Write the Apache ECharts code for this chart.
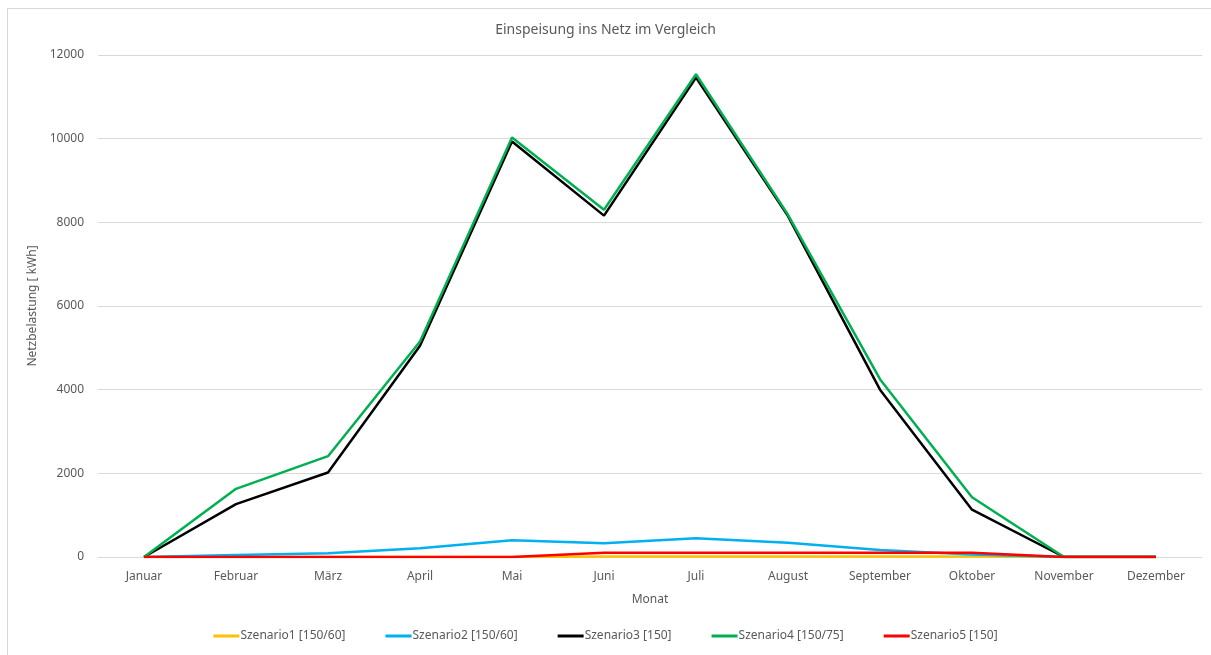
<!DOCTYPE html>
<html>
<head>
<meta charset="utf-8">
<script src="https://cdn.jsdelivr.net/npm/echarts@6/dist/echarts.min.js"></script>
<style>
  html, body { margin: 0; padding: 0; background: #fff; }
  #frame {
    position: absolute; left: 7px; top: 8px; width: 1210px; height: 652px;
    border: 1px solid #d9d9d9; box-sizing: border-box;
  }
  #chart { position: absolute; left: 0; top: 0; width: 1211px; height: 655px; }
</style>
</head>
<body>
<div id="frame"></div>
<div id="chart"></div>
<script>
// Monate und Einspeisewerte je Szenario (kWh)
const months = ["Januar", "Februar", "März", "April", "Mai", "Juni", "Juli", "August", "September", "Oktober", "November", "Dezember"];
const szenario1 = [0, 0, 0, 0, 0, 10, 10, 10, 10, 10, 0, 0];
const szenario2 = [0, 50, 90, 210, 400, 330, 450, 340, 170, 60, 0, 0];
const szenario3 = [0, 1265, 2020, 5050, 9930, 8160, 11460, 8150, 4000, 1130, 0, 0];
const szenario4 = [0, 1630, 2410, 5150, 10030, 8300, 11540, 8180, 4250, 1430, 0, 0];
const szenario5 = [0, 0, 0, 0, 0, 100, 100, 100, 100, 100, 0, 0];
const yTicks = [0, 2000, 4000, 6000, 8000, 10000, 12000];

const chart = echarts.init(document.getElementById("chart"));
const txt = "#595959";
const font = "Noto Sans";

function line(name, data, color) {
  return {
    name: name,
    type: "line",
    data: data,
    symbol: "none",
    lineStyle: { color: color, width: 2.5 },
    itemStyle: { color: color },
  };
}

chart.setOption({
  animation: false,
  textStyle: { fontFamily: font },
  title: {
    text: "Einspeisung ins Netz im Vergleich",
    left: "center",
    top: 18,
    textStyle: { color: txt, fontSize: 14, fontWeight: "normal", fontFamily: font },
  },
  grid: { left: 98, right: 9, top: 55, bottom: 98 },
  xAxis: {
    type: "category",
    data: months,
    boundaryGap: true,
    name: "Monat",
    nameLocation: "middle",
    nameGap: 37,
    nameTextStyle: { color: txt, fontSize: 12 },
    axisLine: { lineStyle: { color: "#d9d9d9" } },
    axisTick: { show: false },
    axisLabel: { color: txt, fontSize: 12, margin: 14 },
  },
  yAxis: {
    type: "value",
    min: yTicks[0],
    max: yTicks[yTicks.length - 1],
    interval: 2000,
    name: "Netzbelastung [ kWh]",
    nameLocation: "middle",
    nameGap: 58,
    nameTextStyle: { color: txt, fontSize: 12 },
    axisLine: { show: false },
    axisTick: { show: false },
    axisLabel: { color: txt, fontSize: 12, margin: 14, formatter: (v) => String(v) },
    splitLine: { lineStyle: { color: "#d9d9d9" } },
  },
  legend: {
    bottom: 8,
    left: "center",
    itemGap: 40,
    itemWidth: 26,
    itemHeight: 3,
    icon: "rect",
    textStyle: { color: txt, fontSize: 12, padding: [0, 0, 0, -4] },
  },
  series: [
    line("Szenario1 [150/60]", szenario1, "#ffc000"),
    line("Szenario2 [150/60]", szenario2, "#00b0f0"),
    line("Szenario3 [150]", szenario3, "#000000"),
    line("Szenario4 [150/75]", szenario4, "#00b050"),
    line("Szenario5 [150]", szenario5, "#ff0000"),
  ],
});
</script>
</body>
</html>
